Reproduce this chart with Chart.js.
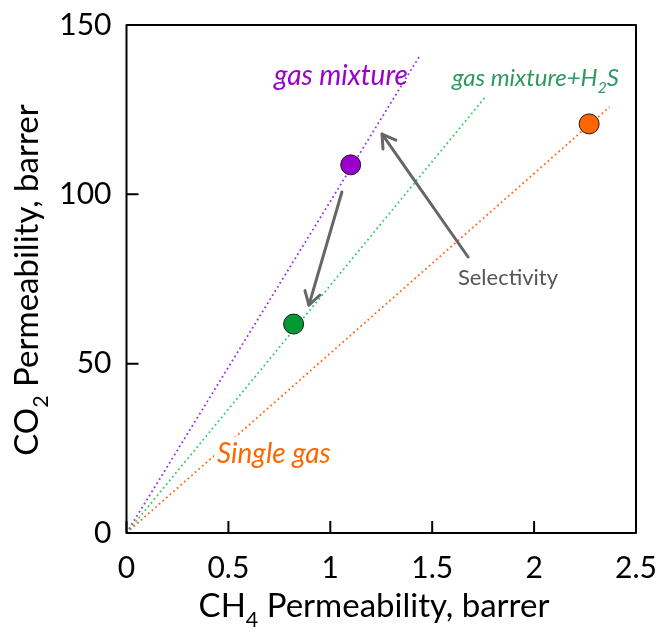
<!DOCTYPE html>
<html>
<head>
<meta charset="utf-8">
<script src="https://cdn.jsdelivr.net/npm/chart.js@4.4.1/dist/chart.umd.min.js"></script>
<style>
  html, body { margin: 0; padding: 0; background: #fff; }
  #wrap { width: 658px; height: 632px; position: relative; }
</style>
</head>
<body>
<div id="wrap"><canvas id="permChart"></canvas></div>
<script>
// measured permeabilities (barrer)
const seriesNames = ['gas mixture', 'gas mixture+H2S', 'Single gas'];
const ch4Perm = [1.10, 0.82, 2.27];
const co2Perm = [108.7, 61.7, 120.8];
const pointColors = ['#9900cc', '#009933', '#ff6600'];

// selectivity lines through the origin, end points
const lineEndCh4 = [1.44, 1.76, 2.37];
const lineEndCo2 = [141, 128.7, 125.8];
const lineColors = ['#9933ee', '#33cc66', '#ff6a1a'];

// arrows: [ch4, co2] from -> to
const arrowFrom = [[1.057, 100.7], [1.676, 81.5]];
const arrowTo = [[0.895, 67.3], [1.254, 117.8]];

const xTicks = [0, 0.5, 1, 1.5, 2, 2.5];
const yTicks = [0, 50, 100, 150];

const FONT = "Lato, 'Open Sans', sans-serif";

const datasets = [];
for (let i = 0; i < seriesNames.length; i++) {
    datasets.push({
        label: seriesNames[i] + ' line',
        data: [{ x: 0, y: 0 }, { x: lineEndCh4[i], y: lineEndCo2[i] }],
        showLine: true,
        borderColor: lineColors[i],
        borderWidth: 1.8,
        borderDash: [1.8, 3],
        pointRadius: 0,
        order: 2
    });
}
for (let i = 0; i < seriesNames.length; i++) {
    datasets.push({
        label: seriesNames[i],
        data: [{ x: ch4Perm[i], y: co2Perm[i] }],
        backgroundColor: pointColors[i],
        borderColor: '#1a1a1a',
        borderWidth: 1,
        pointRadius: 10,
        order: 1
    });
}

// text drawn with optional subscript pieces: [[text, isSub], ...]
function partsWidth(ctx, parts, size, style) {
    let w = 0;
    parts.forEach(p => {
        ctx.font = style + ' ' + (p[1] ? size * 0.65 : size) + 'px ' + FONT;
        w += ctx.measureText(p[0]).width;
    });
    return w;
}
function drawParts(ctx, parts, x, y, size, style, color) {
    ctx.fillStyle = color;
    ctx.textBaseline = 'alphabetic';
    ctx.textAlign = 'left';
    parts.forEach(p => {
        ctx.font = style + ' ' + (p[1] ? size * 0.65 : size) + 'px ' + FONT;
        ctx.fillText(p[0], x, p[1] ? y + size * 0.3 : y);
        x += ctx.measureText(p[0]).width;
    });
}

const decorPlugin = {
    id: 'decor',
    afterDatasetsDraw(chart) {
        const ctx = chart.ctx;
        const xs = chart.scales.x, ys = chart.scales.y;
        const a = chart.chartArea;
        const px = v => xs.getPixelForValue(v);
        const py = v => ys.getPixelForValue(v);
        ctx.save();

        // arrows
        ctx.strokeStyle = '#666666';
        ctx.lineWidth = 3;
        ctx.lineCap = 'round';
        ctx.lineJoin = 'round';
        for (let i = 0; i < arrowFrom.length; i++) {
            const x0 = px(arrowFrom[i][0]), y0 = py(arrowFrom[i][1]);
            const x1 = px(arrowTo[i][0]), y1 = py(arrowTo[i][1]);
            const ang = Math.atan2(y1 - y0, x1 - x0);
            ctx.beginPath();
            ctx.moveTo(x0, y0);
            ctx.lineTo(x1, y1);
            ctx.stroke();
            const h = 15, spread = 0.55;
            ctx.beginPath();
            ctx.moveTo(x1 - h * Math.cos(ang - spread), y1 - h * Math.sin(ang - spread));
            ctx.lineTo(x1, y1);
            ctx.lineTo(x1 - h * Math.cos(ang + spread), y1 - h * Math.sin(ang + spread));
            ctx.stroke();
        }

        // series labels
        const single = [['Single gas', false]];
        const sx = px(0.444), sy = py(20.7);
        const sw = partsWidth(ctx, single, 28, 'italic');
        ctx.fillStyle = '#ffffff';
        ctx.fillRect(sx - 3, sy - 26, sw + 6, 36);
        drawParts(ctx, single, sx, sy, 28, 'italic', '#ff6600');
        drawParts(ctx, [['gas mixture', false]], px(0.724), py(132.3), 28, 'italic', '#9900cc');
        drawParts(ctx, [['gas mixture+H', false], ['2', true], ['S', false]], px(1.597), py(132), 24, 'italic', '#2e9960');
        drawParts(ctx, [['Selectivity', false]], px(1.626), py(73.2), 22, 'normal', '#555555');

        // frame
        ctx.strokeStyle = '#000';
        ctx.lineWidth = 2;
        ctx.lineCap = 'butt';
        ctx.strokeRect(a.left, a.top, a.right - a.left, a.bottom - a.top);

        // inward tick marks
        ctx.beginPath();
        xTicks.forEach(v => { ctx.moveTo(px(v), a.bottom); ctx.lineTo(px(v), a.bottom - 12); });
        yTicks.forEach(v => { ctx.moveTo(a.left, py(v)); ctx.lineTo(a.left + 12, py(v)); });
        ctx.stroke();

        // axis titles
        const tSize = 33;
        const xt = [['CH', false], ['4', true], [' Permeability, barrer', false]];
        const xw = partsWidth(ctx, xt, tSize, 'normal');
        drawParts(ctx, xt, 374 - xw / 2, 617, tSize, 'normal', '#000');

        const yt = [['CO', false], ['2', true], [' Permeability, barrer', false]];
        const yw = partsWidth(ctx, yt, tSize, 'normal');
        ctx.translate(38, 280);
        ctx.rotate(-Math.PI / 2);
        drawParts(ctx, yt, -yw / 2, 0, tSize, 'normal', '#000');
        ctx.restore();
    }
};

new Chart(document.getElementById('permChart').getContext('2d'), {
    type: 'scatter',
    data: { datasets: datasets },
    options: {
        responsive: true,
        maintainAspectRatio: false,
        animation: false,
        layout: { padding: { top: 25, right: 22, left: 0, bottom: 0 } },
        plugins: {
            legend: { display: false },
            tooltip: { enabled: false }
        },
        scales: {
            x: {
                type: 'linear',
                min: 0,
                max: 2.5,
                afterFit: s => { s.height = 99; s.paddingLeft = 0; s.paddingRight = 0; },
                afterBuildTicks: s => { s.ticks = xTicks.map(v => ({ value: v })); },
                grid: { display: false, drawTicks: false },
                border: { display: false },
                ticks: {
                    color: '#000',
                    padding: 17,
                    maxRotation: 0,
                    font: { family: FONT, size: 30 },
                    callback: v => String(v)
                }
            },
            y: {
                type: 'linear',
                min: 0,
                max: 150,
                afterFit: s => { s.width = 126.5; s.paddingTop = 0; s.paddingBottom = 0; },
                afterBuildTicks: s => { s.ticks = yTicks.map(v => ({ value: v })); },
                grid: { display: false, drawTicks: false },
                border: { display: false },
                ticks: {
                    color: '#000',
                    padding: 15,
                    font: { family: FONT, size: 30 },
                    callback: v => String(v)
                }
            }
        }
    },
    plugins: [decorPlugin]
});
</script>
</body>
</html>
